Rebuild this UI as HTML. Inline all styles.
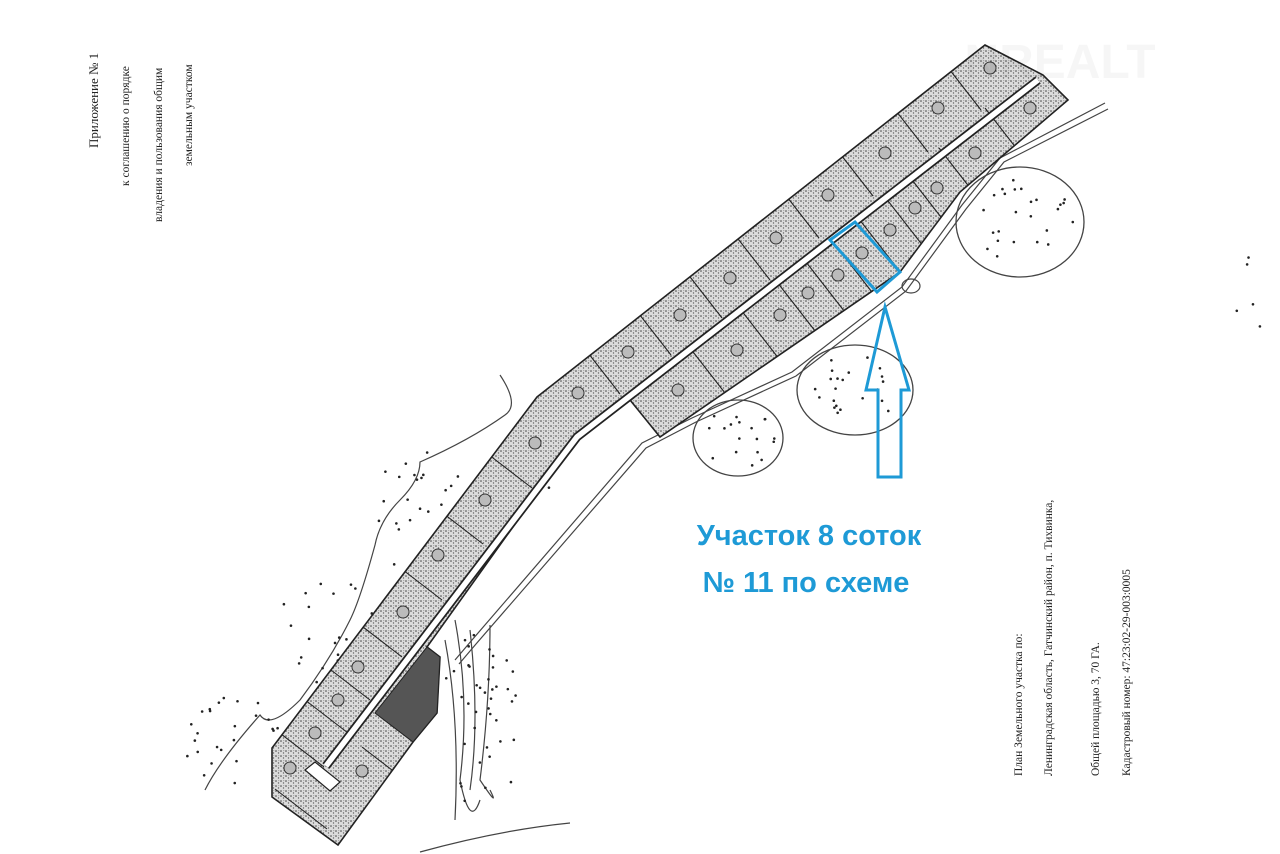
<!DOCTYPE html>
<html><head><meta charset="utf-8"><style>
html,body{margin:0;padding:0;background:#fff;}
#w{position:relative;width:1280px;height:854px;overflow:hidden;background:#fff;}
.rt{position:absolute;transform-origin:0 0;transform:rotate(-90deg);font-family:"Liberation Serif",serif;color:#222;white-space:nowrap;}
</style></head><body><div id="w">
<svg id="s" width="1280" height="854" style="position:absolute;left:0;top:0">
<defs>
<pattern id="st" width="5" height="5" patternUnits="userSpaceOnUse">
<rect width="5" height="5" fill="#dcdcdc"/>
<circle cx="1" cy="1" r="0.8" fill="#444"/><circle cx="3.5" cy="3" r="0.7" fill="#666"/><circle cx="3.8" cy="0.6" r="0.5" fill="#888"/>
</pattern>
<clipPath id="cp"><polygon points="985,45 1043,75 1068,100 960,192 900,272 660,437 630,400 573,443 427,647 440,657 437,713 413,742 338,845 272,797 272,748 537,397"/></clipPath>
</defs>
<g fill="none" stroke="#444" stroke-width="1.2">
<path d="M1105,103 L1000,158 L962,205 L902,287 L792,372 L692,418 L642,443 L472,640 L455,660"/>
<path d="M1108,109 L1004,162 L966,209 L906,291 L796,376 L696,422 L646,448 L476,644 L459,664"/>
<path d="M500,375 Q520,405 505,415 Q470,440 420,462 Q420,480 400,500 Q380,520 375,545 Q360,600 350,620 Q330,660 300,700 Q270,730 260,715 Q220,760 205,790"/>
<path d="M420,852 Q500,830 570,823"/>
<path d="M455,620 Q470,700 460,780 Q470,830 480,800 M470,630 Q480,720 470,790 M490,625 Q490,700 480,780 Q500,810 490,790 M445,640 Q460,720 455,820"/>
</g>
<ellipse cx="1020" cy="222" rx="64" ry="55" fill="none" stroke="#444" stroke-width="1.3"/>
<ellipse cx="855" cy="390" rx="58" ry="45" fill="none" stroke="#444" stroke-width="1.3"/>
<ellipse cx="738" cy="438" rx="45" ry="38" fill="none" stroke="#444" stroke-width="1.3"/>
<ellipse cx="911" cy="286" rx="9" ry="7" fill="none" stroke="#444" stroke-width="1.2"/>
<g id="dots" fill="#222"></g>
<polygon points="985,45 1043,75 1068,100 960,192 900,272 660,437 630,400 573,443 427,647 440,657 437,713 413,742 338,845 272,797 272,748 537,397" fill="url(#st)" stroke="#222" stroke-width="1.6"/>
<polygon points="427,647 440,657 437,713 413,742 375,713" fill="#555" stroke="#222" stroke-width="1"/>
<g id="divs" stroke="#222" stroke-width="1.1" clip-path="url(#cp)"></g>
<polyline points="1038,80 577,437 326,766" fill="none" stroke="#222" stroke-width="9"/>
<polyline points="1038,80 577,437 326,766" fill="none" stroke="#fff" stroke-width="5.5"/>
<polygon points="305,770 315,762 340,782 330,791" fill="#fff" stroke="#222" stroke-width="1.2"/>
<g id="circ" fill="#bbb" stroke="#333" stroke-width="1"></g>
<polygon points="830,240 855,222 900,272 877,292" fill="none" stroke="#1e9ad6" stroke-width="3"/>
<polygon points="885,307 909,390 901,390 901,477 878,477 878,390 866,390" fill="none" stroke="#1e9ad6" stroke-width="3"/>
<text x="1060" y="78" font-family="Liberation Sans,sans-serif" font-size="48" font-weight="bold" fill="#000" opacity="0.03" text-anchor="middle">NREALT</text>
<text x="809" y="545" font-family="Liberation Sans,sans-serif" font-size="29" font-weight="bold" fill="#1e9ad6" text-anchor="middle">Участок 8 соток</text>
<text x="806" y="592" font-family="Liberation Sans,sans-serif" font-size="29" font-weight="bold" fill="#1e9ad6" text-anchor="middle">№ 11 по схеме</text>
</svg>
<div class="rt" style="left:86px;top:148px;font-size:13px">Приложение № 1</div>
<div class="rt" style="left:120px;top:186px;font-size:11.5px">к соглашению о порядке</div>
<div class="rt" style="left:153px;top:222px;font-size:11.5px">владения и пользования общим</div>
<div class="rt" style="left:183px;top:166px;font-size:11.5px">земельным участком</div>
<div class="rt" style="left:1013px;top:776px;font-size:11.5px">План Земельного участка по:</div>
<div class="rt" style="left:1043px;top:776px;font-size:11.5px">Ленинградская область, Гатчинский район, п. Тихвинка,</div>
<div class="rt" style="left:1090px;top:776px;font-size:11.5px">Общей площадью 3, 70 ГА.</div>
<div class="rt" style="left:1121px;top:776px;font-size:11.5px">Кадастровый номер: 47:23:02-29-003:0005</div>
</div>
<script>
var NS="http://www.w3.org/2000/svg";
function el(p,t,a){var e=document.createElementNS(NS,t);for(var k in a)e.setAttribute(k,a[k]);document.getElementById(p).appendChild(e);}
var tm=[[964,88],[911,130],[856,174],[802,216],[753,258],[705,296],[654,333],[603,372]];
tm.forEach(function(m){el("divs","line",{x1:m[0]-25,y1:m[1]-32,x2:m[0]+17,y2:m[1]+22});});
var lm=[[1002,130],[956,170],[926,198],[902,219],[876,241],[850,264],[823,284],[794,304],[758,332],[707,370]];
lm.forEach(function(m){el("divs","line",{x1:m[0]-17,y1:m[1]-22,x2:m[0]+25,y2:m[1]+32});});
var sm=[[510,471],[461,527],[420,583],[380,640],[348,683],[326,716],[302,750],[305,812],[392,770]];
sm.forEach(function(m){el("divs","line",{x1:m[0]-30,y1:m[1]-23,x2:m[0]+22,y2:m[1]+17});});
var cc=[[990,68],[938,108],[885,153],[828,195],[776,238],[730,278],[680,315],[628,352],[578,393],[1030,108],[975,153],[937,188],[915,208],[890,230],[862,253],[838,275],[808,293],[780,315],[737,350],[678,390],[535,443],[485,500],[438,555],[403,612],[358,667],[338,700],[315,733],[290,768],[362,771]];
cc.forEach(function(c){el("circ","circle",{cx:c[0],cy:c[1],r:6});});
var seed=7;function r(){seed=(seed*16807)%2147483647;return seed/2147483647;}
function area(cx,cy,rx,ry,n){for(var i=0;i<n;i++){var a=r()*6.283,d=Math.sqrt(r());el("dots","circle",{cx:cx+Math.cos(a)*rx*d,cy:cy+Math.sin(a)*ry*d,r:1.3});}}
area(1020,222,55,45,25);area(855,390,48,36,22);area(738,438,38,30,18);
area(420,520,55,70,30);area(330,640,60,60,30);area(230,740,50,45,25);
area(480,720,45,90,40);area(540,470,25,40,6);area(1250,300,15,60,5);
</script>
</body></html>
